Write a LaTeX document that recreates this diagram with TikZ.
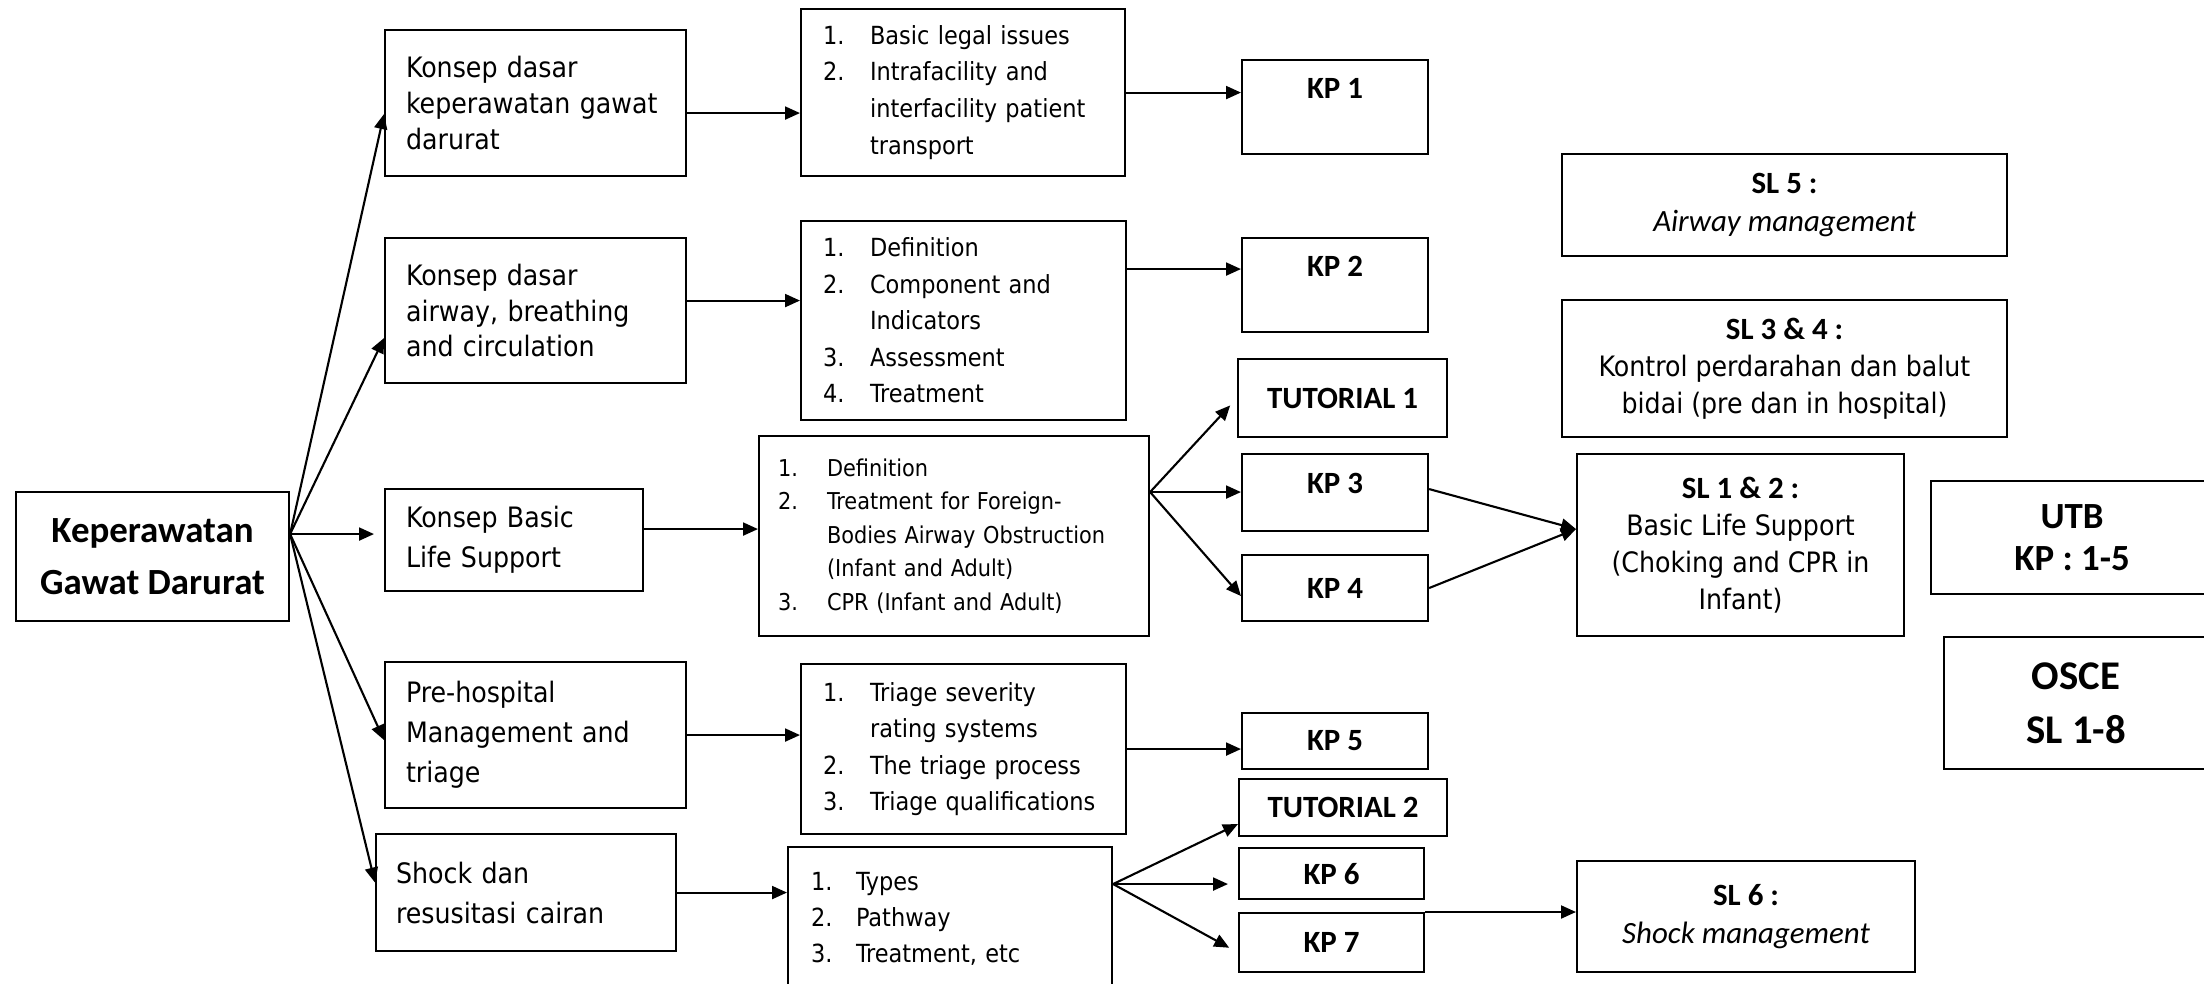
\documentclass[tikz,border=0pt]{standalone}
\usepackage{fontspec}
\setmainfont{DejaVu Sans Condensed}
\newfontfamily\calib{Carlito}
\usetikzlibrary{arrows.meta}
\hyphenpenalty=10000
\exhyphenpenalty=10000

\newcommand{\itm}[2][0.47cm]{\makebox[#1][l]{#2}}
\newcommand{\ind}[1][0.47cm]{\hspace*{#1}}
\newcommand{\sltitle}[1]{{\calib\bfseries\fontsize{8.8}{10.6}\selectfont #1}}
\newcommand{\slitalic}[1]{{\calib\itshape\fontsize{8.8}{10.6}\selectfont #1}}

\begin{document}
\begin{tikzpicture}[
box/.style={draw, rectangle, line width=0.6pt, anchor=north west, inner ysep=1pt},
txt/.style={box, align=left, inner xsep=0.21cm, font=\fontsize{8}{10.2}\selectfont},
lst/.style={box, align=left, inner xsep=0.22cm, font=\fontsize{7.1}{10.4}\selectfont},
kp/.style={box, align=center, font=\calib\bfseries\fontsize{8.8}{10.6}\selectfont},
sl/.style={box, align=center, font=\fontsize{8}{10.6}\selectfont},
arr/.style={-{Triangle[length=0.15cm,width=0.13cm]}, line width=0.6pt}]

\path[use as bounding box, clip] (0,0) rectangle (22.04,-9.84);

% main topic
\node[box, align=center, minimum width=2.73cm, minimum height=1.29cm,
  font=\calib\bfseries\fontsize{10.5}{14.8}\selectfont] (main) at (0.15,-4.91) {Keperawatan\\Gawat Darurat};

% sub topics
\node[txt, text width=2.59cm, minimum height=1.46cm] (a1) at (3.84,-0.29) {Konsep dasar\\keperawatan~gawat\\darurat};
\node[txt, text width=2.59cm, minimum height=1.45cm] (a2) at (3.84,-2.37) {Konsep dasar\\airway,~breathing\\and circulation};
\node[txt, text width=2.16cm, minimum height=1.02cm, font=\fontsize{8}{11.4}\selectfont] (a3) at (3.84,-4.88) {Konsep Basic\\Life Support};
\node[txt, text width=2.59cm, minimum height=1.46cm, font=\fontsize{8}{11.4}\selectfont] (a4) at (3.84,-6.61) {Pre-hospital\\Management~and\\triage};
\node[txt, inner xsep=0.2cm, text width=2.60cm, minimum height=1.17cm, font=\fontsize{8}{11.4}\selectfont] (a5) at (3.75,-8.33) {Shock dan\\resusitasi~cairan};

% materi
\node[lst, text width=2.80cm, minimum height=1.67cm, font=\fontsize{7.1}{10.5}\selectfont] (b1) at (8.00,-0.08)
  {\itm{1.}Basic legal issues\\\itm{2.}Intrafacility~and\\\ind interfacility~patient\\\ind transport};
\node[lst, text width=2.81cm, minimum height=1.99cm] (b2) at (8.00,-2.20)
  {\itm{1.}Definition\\\itm{2.}Component~and\\\ind Indicators\\\itm{3.}Assessment\\\itm{4.}Treatment};
\node[lst, inner xsep=0.19cm, text width=3.52cm, minimum height=2.00cm, font=\fontsize{6.6}{9.5}\selectfont] (b3) at (7.58,-4.35)
  {\itm[0.49cm]{1.}Definition\\\itm[0.49cm]{2.}Treatment~for~Foreign-\\\ind[0.49cm]Bodies~Airway~Obstruction\\\ind[0.49cm](Infant~and~Adult)\\\itm[0.49cm]{3.}CPR~(Infant~and~Adult)};
\node[lst, text width=2.81cm, minimum height=1.70cm, font=\fontsize{7.1}{10.3}\selectfont] (b4) at (8.00,-6.63)
  {\itm{1.}Triage~severity\\\ind rating~systems\\\itm{2.}The~triage~process\\\itm{3.}Triage~qualifications};
\node[lst, inner xsep=0.23cm, text width=2.78cm, minimum height=1.44cm, font=\fontsize{7.1}{10.2}\selectfont] (b5) at (7.87,-8.46)
  {\itm[0.45cm]{1.}Types\\\itm[0.45cm]{2.}Pathway\\\itm[0.45cm]{3.}Treatment, etc};

% kegiatan
\node[kp, minimum width=1.86cm, minimum height=0.94cm] (kp1) at (12.41,-0.59) {KP 1\\~};
\node[kp, minimum width=1.86cm, minimum height=0.94cm] (kp2) at (12.41,-2.37) {KP 2\\~};
\node[kp, minimum width=2.09cm, minimum height=0.78cm] (tut1) at (12.37,-3.58) {TUTORIAL 1};
\node[kp, minimum width=1.86cm, minimum height=0.77cm, text depth=0.18cm] (kp3) at (12.41,-4.53) {KP 3};
\node[kp, minimum width=1.86cm, minimum height=0.66cm] (kp4) at (12.41,-5.54) {KP 4};
\node[kp, minimum width=1.86cm, minimum height=0.56cm] (kp5) at (12.41,-7.12) {KP 5};
\node[kp, minimum width=2.08cm, minimum height=0.57cm] (tut2) at (12.38,-7.78) {TUTORIAL 2};
\node[kp, minimum width=1.85cm, minimum height=0.51cm] (kp6) at (12.38,-8.47) {KP 6};
\node[kp, minimum width=1.85cm, minimum height=0.59cm] (kp7) at (12.38,-9.12) {KP 7};

% skills lab
\node[sl, minimum width=4.45cm, minimum height=1.02cm] (sl5) at (15.61,-1.53) {\sltitle{SL 5 :}\\\slitalic{Airway management}};
\node[sl, minimum width=4.45cm, minimum height=1.37cm] (sl34) at (15.61,-2.99) {\sltitle{SL 3 \& 4 :}\\Kontrol~perdarahan~dan~balut\\bidai~(pre~dan~in~hospital)};
\node[sl, minimum width=3.27cm, minimum height=1.82cm] (sl12) at (15.76,-4.53) {\sltitle{SL 1 \& 2 :}\\Basic Life Support\\(Choking~and~CPR~in\\Infant)};
\node[sl, minimum width=3.38cm, minimum height=1.11cm] (sl6) at (15.76,-8.60) {\sltitle{SL 6 :}\\\slitalic{Shock management}};

% ujian
\node[box, align=center, minimum width=2.82cm, minimum height=1.13cm,
  font=\calib\bfseries\fontsize{10.5}{11.9}\selectfont] (utb) at (19.30,-4.80) {UTB\\KP : 1-5};
\node[box, align=center, minimum width=2.64cm, minimum height=1.32cm,
  font=\calib\bfseries\fontsize{11.6}{15.3}\selectfont] (osce) at (19.43,-6.36) {OSCE\\SL 1-8};

% main -> sub topics
\coordinate (fan0) at ([yshift=0.225cm]main.east);
\draw[arr] (fan0) -- ([yshift=-0.11cm]a1.west);
\draw[arr] (fan0) -- ([yshift=-0.275cm]a2.west);
\draw[arr, shorten >=0.1cm] (fan0) -- (fan0 -| a3.west);
\draw[arr] (fan0) -- ([yshift=-0.05cm]a4.west);
\draw[arr] (fan0) -- ([yshift=0.1cm]a5.west);

% sub topics -> materi
\coordinate (p1) at ([yshift=-0.1cm]a1.east);
\draw[arr] (p1) -- (p1 -| b1.west);
\coordinate (p2) at ([yshift=0.1cm]a2.east);
\draw[arr] (p2) -- (p2 -| b2.west);
\coordinate (p3) at ([yshift=0.11cm]a3.east);
\draw[arr] (p3) -- (p3 -| b3.west);
\draw[arr] (a4.east) -- (a4.east -| b4.west);
\draw[arr] (a5.east) -- (a5.east -| b5.west);

% materi -> kegiatan
\draw[arr] (b1.east) -- (b1.east -| kp1.west);
\coordinate (q2) at ([yshift=0.515cm]b2.east);
\draw[arr] (q2) -- (q2 -| kp2.west);
\coordinate (fan3) at ([yshift=0.44cm]b3.east);
\draw[arr, shorten >=0.1cm] (fan3) -- (tut1.west);
\draw[arr] (fan3) -- (fan3 -| kp3.west);
\draw[arr] (fan3) -- ([yshift=-0.08cm]kp4.west);
\draw[arr] (b4.east) -- (b4.east -| kp5.west);
\coordinate (fan5) at ([yshift=0.35cm]b5.east);
\draw[arr] (fan5) -- ([yshift=-0.165cm]tut2.west);
\draw[arr, shorten >=0.1cm] (fan5) -- (fan5 -| kp6.west);
\draw[arr, shorten >=0.1cm] (fan5) -- ([yshift=-0.1cm]kp7.west);

% kegiatan -> skills lab
\draw[arr] ([yshift=0.035cm]kp3.east) -- ([yshift=0.16cm]sl12.west);
\draw[arr] (kp4.east) -- ([yshift=0.16cm]sl12.west);
\draw[arr] (kp7.north east) -- (kp7.north east -| sl6.west);
\end{tikzpicture}
\end{document}
